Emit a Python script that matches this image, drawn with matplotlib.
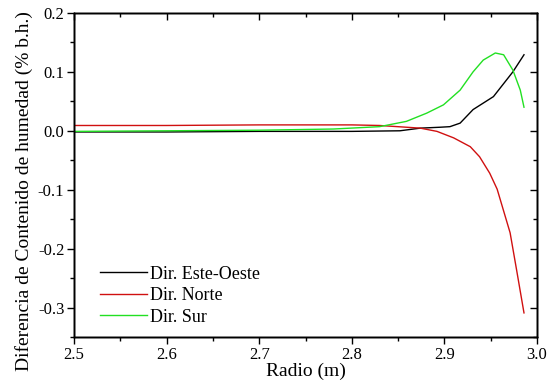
import matplotlib
matplotlib.use("Agg")
import matplotlib.pyplot as plt
from matplotlib.ticker import MultipleLocator, FormatStrFormatter

plt.rcParams['font.family'] = ['Liberation Serif', 'DejaVu Serif']

# valores
r_eo = [2.50, 2.60, 2.70, 2.80, 2.852, 2.874, 2.895, 2.906, 2.917, 2.931, 2.953, 2.974, 2.986]
d_eo = [-0.002, -0.002, -0.001, -0.001, 0.0, 0.0045, 0.006, 0.007, 0.013, 0.036, 0.058, 0.100, 0.129]

r_n = [2.50, 2.60, 2.70, 2.80, 2.83, 2.874, 2.892, 2.910, 2.928, 2.938, 2.949, 2.957, 2.971, 2.978, 2.986]
d_n = [0.009, 0.009, 0.010, 0.010, 0.009, 0.0045, -0.001, -0.012, -0.027, -0.044, -0.072, -0.099, -0.173, -0.236, -0.309]

r_s = [2.50, 2.60, 2.70, 2.78, 2.83, 2.859, 2.881, 2.899, 2.917, 2.931, 2.942, 2.955, 2.964, 2.974, 2.982, 2.986]
d_s = [-0.001, 0.0, 0.001, 0.003, 0.007, 0.016, 0.030, 0.044, 0.069, 0.100, 0.120, 0.132, 0.129, 0.103, 0.069, 0.040]

fig = plt.figure(figsize=(5.57, 3.80), dpi=100)
ax = fig.add_axes([0.133, 0.113, 0.831, 0.853])
ax.plot(r_eo, d_eo, color='black', linewidth=1.0, label='Dir. Este-Oeste')
ax.plot(r_n, d_n, color='#d01010', linewidth=1.0, label='Dir. Norte')
ax.plot(r_s, d_s, color='#22e022', linewidth=1.0, label='Dir. Sur')

ax.set_xlim(2.5, 3.0)
ax.set_ylim(-0.35, 0.2)

# ejes gemelos solo para las marcas espejo hacia dentro (arriba y derecha)
tx = ax.twiny()
ty = ax.twinx()
tx.set_xlim(ax.get_xlim())
ty.set_ylim(ax.get_ylim())

for a in (ax.xaxis, ax.yaxis, tx.xaxis, ty.yaxis):
    a.set_major_locator(MultipleLocator(0.1))
    a.set_minor_locator(MultipleLocator(0.05))
    a.set_major_formatter(FormatStrFormatter('%.1f'))
ax.tick_params(which='both', direction='out', labelsize=12, width=1, pad=2)
tx.tick_params(which='both', direction='in', labeltop=False, width=1)
ty.tick_params(which='both', direction='in', labelright=False, width=1)
for a in (ax, tx, ty):
    a.tick_params(which='major', length=5)
    a.tick_params(which='minor', length=3)
    for sp in a.spines.values():
        sp.set_linewidth(1)

ax.set_xlabel('Radio (m)', fontsize=14, labelpad=0)
ax.set_ylabel('Diferencia de Contenido de humedad (% b.h.)', fontsize=14)
ax.yaxis.set_label_coords(-0.088, 0.45)
ax.legend(loc='lower left', bbox_to_anchor=(0.02, -0.015), frameon=False, fontsize=13,
          handlelength=2.6, handletextpad=0.2, labelspacing=0.25)

fig.savefig('out.png', dpi=100)
